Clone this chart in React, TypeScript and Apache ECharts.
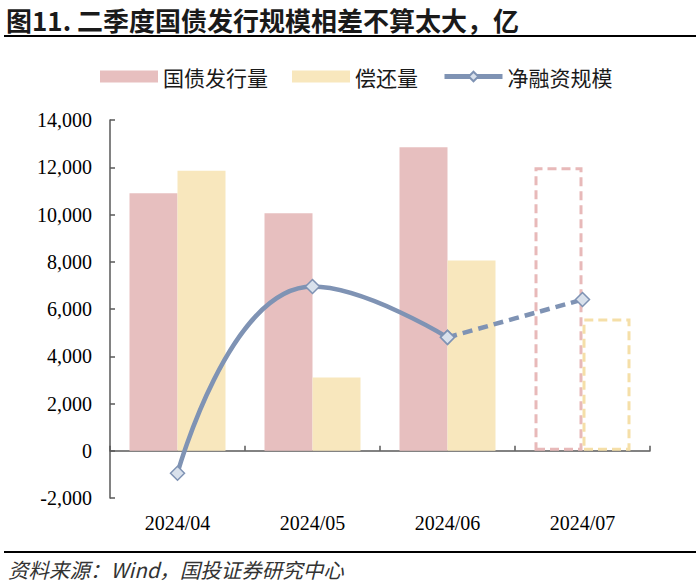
import React, { useEffect, useRef } from "react";
import * as echarts from "echarts";

const categories = ["2024/04", "2024/05", "2024/06", "2024/07"];
const issuance = [10900, 10050, 12850, 12000];
const repayment = [11850, 3100, 8050, 5600];
const netFinancing = [-950, 6950, 4800, 6400];
const forecastIndex = 3;
const yTicks = { min: -2000, max: 14000, interval: 2000 };

const PINK = "#e7bfbf";
const PINK_DASH = "#e8b9b9";
const YELLOW = "#f8e7bd";
const YELLOW_DASH = "#f5dfa8";
const LINE = "#7f93b4";
const MARK = "#d9e1ec";
const AXIS = "#595959";
const SERIF = "'Liberation Serif', 'Times New Roman', serif";
const CJK = "'Noto Sans CJK SC', 'Noto Sans', sans-serif";

export default function App() {
  const ref = useRef<HTMLDivElement>(null);
  useEffect(() => {
    if (!ref.current) return;
    const chart = echarts.init(ref.current, null, { renderer: "svg" });

    const barData = (vals: number[], dashColor: string) =>
      vals.map((v, i) =>
        i === forecastIndex
          ? {
              value: v,
              itemStyle: {
                color: "rgba(255,255,255,0)",
                borderColor: dashColor,
                borderWidth: 3,
                borderType: [9, 5],
              },
            }
          : v
      );

    const solidLine = netFinancing.map((v, i) => (i < forecastIndex ? v : null));
    const dashLine = netFinancing.map((v, i) => (i >= forecastIndex - 1 ? v : null));

    const option: any = {
      animation: false,
      backgroundColor: "#ffffff",
      textStyle: { fontFamily: CJK },
      legend: {
        data: [
          { name: "国债发行量", icon: "rect" },
          { name: "偿还量", icon: "rect" },
          { name: "净融资规模", lineStyle: { width: 5, color: LINE } },
        ],
        left: 95,
        top: 61,
        itemWidth: 58,
        itemHeight: 12,
        itemGap: 24,
        textStyle: { fontSize: 21, color: "#1a1a1a", fontFamily: CJK },
      },
      grid: { left: 110, right: 50, top: 120, bottom: 87 },
      xAxis: [
        {
          type: "category",
          data: categories,
          axisLine: { onZero: true, lineStyle: { color: AXIS, width: 1.5 } },
          axisTick: { show: true, inside: true, length: 5, lineStyle: { color: AXIS, width: 1.5 } },
          axisLabel: { show: false },
          splitLine: { show: false },
        },
        {
          type: "category",
          data: categories,
          position: "bottom",
          axisLine: { show: false, onZero: false },
          axisTick: { show: false },
          axisLabel: { margin: 15, fontSize: 20, color: "#000", fontFamily: SERIF },
          splitLine: { show: false },
        },
      ],
      yAxis: {
        type: "value",
        min: yTicks.min,
        max: yTicks.max,
        interval: yTicks.interval,
        axisLine: { show: true, lineStyle: { color: AXIS, width: 1.5 } },
        axisTick: { show: true, inside: true, length: 5, lineStyle: { color: AXIS, width: 1.5 } },
        axisLabel: {
          margin: 18,
          fontSize: 20,
          color: "#000",
          fontFamily: SERIF,
          formatter: (v: number) => v.toLocaleString("en-US"),
        },
        splitLine: { show: false },
      },
      series: [
        {
          name: "国债发行量",
          type: "bar",
          xAxisIndex: 0,
          barWidth: 48,
          barGap: "0%",
          itemStyle: { color: PINK },
          data: barData(issuance, PINK_DASH),
        },
        {
          name: "偿还量",
          type: "bar",
          xAxisIndex: 0,
          barWidth: 48,
          barGap: "0%",
          itemStyle: { color: YELLOW },
          data: barData(repayment, YELLOW_DASH),
        },
        {
          name: "净融资规模",
          type: "line",
          xAxisIndex: 0,
          smooth: 0.5,
          symbol: "diamond",
          symbolSize: 14,
          showAllSymbol: true,
          z: 5,
          lineStyle: { color: LINE, width: 4.5 },
          itemStyle: { color: MARK, borderColor: LINE, borderWidth: 1.5 },
          data: solidLine,
        },
        {
          name: "净融资规模预测",
          type: "line",
          xAxisIndex: 0,
          smooth: 0.5,
          symbol: "diamond",
          symbolSize: 14,
          z: 4,
          lineStyle: { color: LINE, width: 4.5, type: [10, 6] },
          itemStyle: { color: MARK, borderColor: LINE, borderWidth: 1.5 },
          data: dashLine,
        },
      ],
      graphic: [
        {
          type: "text",
          left: 6,
          top: 6,
          style: {
            text: "图11. 二季度国债发行规模相差不算太大，亿",
            fontSize: 26,
            fontWeight: "bold",
            fontFamily: CJK,
            fill: "#1a1a1a",
          },
        },
        {
          type: "line",
          shape: { x1: 4, y1: 36, x2: 696, y2: 36 },
          style: { stroke: "#000", lineWidth: 2 },
        },
        {
          type: "line",
          shape: { x1: 4, y1: 552, x2: 696, y2: 552 },
          style: { stroke: "#000", lineWidth: 2 },
        },
        {
          type: "text",
          left: 8,
          top: 559,
          style: {
            text: "资料来源：Wind，国投证券研究中心",
            fontSize: 20.5,
            fontStyle: "italic",
            fontFamily: CJK,
            fill: "#333",
          },
        },
      ],
    };
    chart.setOption(option);
    return () => chart.dispose();
  }, []);
  return (
    <div
      ref={ref}
      style={{ position: "fixed", left: 0, top: 0, width: 700, height: 585, background: "#fff" }}
    />
  );
}
